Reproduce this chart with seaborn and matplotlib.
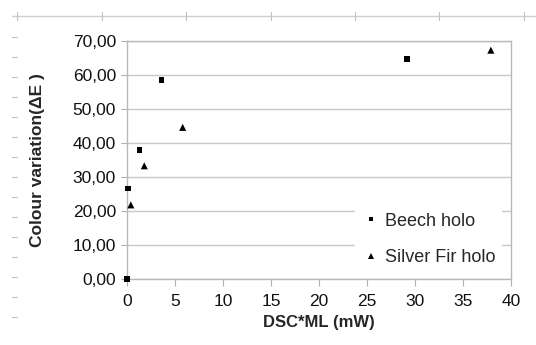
import matplotlib
matplotlib.use("Agg")
import matplotlib.pyplot as plt
import matplotlib.ticker as mticker
from matplotlib.lines import Line2D
import numpy as np
import pandas as pd
import seaborn as sns

# data
beech_x = [0.0, 0.1, 1.3, 3.6, 29.2]
beech_y = [0.0, 26.6, 37.9, 58.6, 64.8]
fir_x = [0.4, 1.8, 5.8, 37.9]
fir_y = [21.8, 33.3, 44.6, 67.3]
series_names = ["Beech holo", "Silver Fir holo"]

df = pd.DataFrame({
    "x": beech_x + fir_x,
    "y": beech_y + fir_y,
    "series": [series_names[0]] * len(beech_x) + [series_names[1]] * len(fir_x),
})

sns.set_style("white")
plt.rcParams["font.family"] = ["Liberation Sans", "DejaVu Sans"]

fig = plt.figure(figsize=(5.36, 3.45), dpi=100)
ax = fig.add_axes([127 / 536, 1 - 279 / 345, (511 - 127) / 536, (279 - 41) / 345])

sns.scatterplot(data=df, x="x", y="y", style="series", markers={"Beech holo": "s", "Silver Fir holo": "^"},
                color="black", s=17, edgecolor="none", ax=ax, zorder=3, clip_on=False)
# triangles look smaller than squares at equal size, so bump them a little
ax.collections[0].set_sizes(np.where(df["series"] == series_names[1], 26, 17))

ax.set_xlim(0, 40)
ax.set_ylim(0, 70)
ax.set_xticks(range(0, 41, 5))
ax.set_yticks(range(0, 71, 10))
ax.yaxis.set_major_formatter(mticker.FuncFormatter(lambda v, p: f"{v:.2f}".replace(".", ",")))
ax.tick_params(axis="both", labelsize=12.5, labelcolor="#111111", length=5, width=0.8)
ax.tick_params(axis="x", direction="out", bottom=True, color="#b0b0b0", pad=6)
ax.tick_params(axis="y", direction="out", left=True, color="#b0b0b0", length=4, pad=4)
ax.grid(axis="y", color="#c8c8c8", linewidth=1)
ax.set_axisbelow(True)
for s in ["left", "bottom", "right", "top"]:
    ax.spines[s].set_color("#b8b8b8")
    ax.spines[s].set_linewidth(1)

ax.set_xlabel("DSC*ML (mW)", fontsize=12, fontweight="bold", labelpad=4)
ax.set_ylabel("Colour variation(ΔE )", fontsize=12.5, fontweight="bold", labelpad=20)

leg = ax.legend(loc="lower right", bbox_to_anchor=(0.975, 0.03), frameon=True, fontsize=13,
                handletextpad=0.2, markerscale=0.7, labelspacing=1.1, borderpad=0.3,
                borderaxespad=0, handlelength=1.2)
leg.legend_handles[1].set_markersize(5)
leg.get_frame().set_edgecolor("white")
leg.get_frame().set_facecolor("white")
leg.get_frame().set_alpha(1)
leg.get_frame().set_boxstyle("square", pad=0)

# scanner ruler remnants around the chart
fig.add_artist(Line2D([12 / 536, 1], [1 - 16 / 345] * 2, color="#d0d0d0", lw=1))
for px in [17, 102, 186, 271, 355, 439, 524]:
    fig.add_artist(Line2D([px / 536] * 2, [1 - 12 / 345, 1 - 20 / 345], color="#c0c0c0", lw=0.8))
for py in range(37, 330, 20):
    fig.add_artist(Line2D([12 / 536, 17 / 536], [1 - py / 345] * 2, color="#c0c0c0", lw=0.8))

fig.savefig("out.png", dpi=100)
